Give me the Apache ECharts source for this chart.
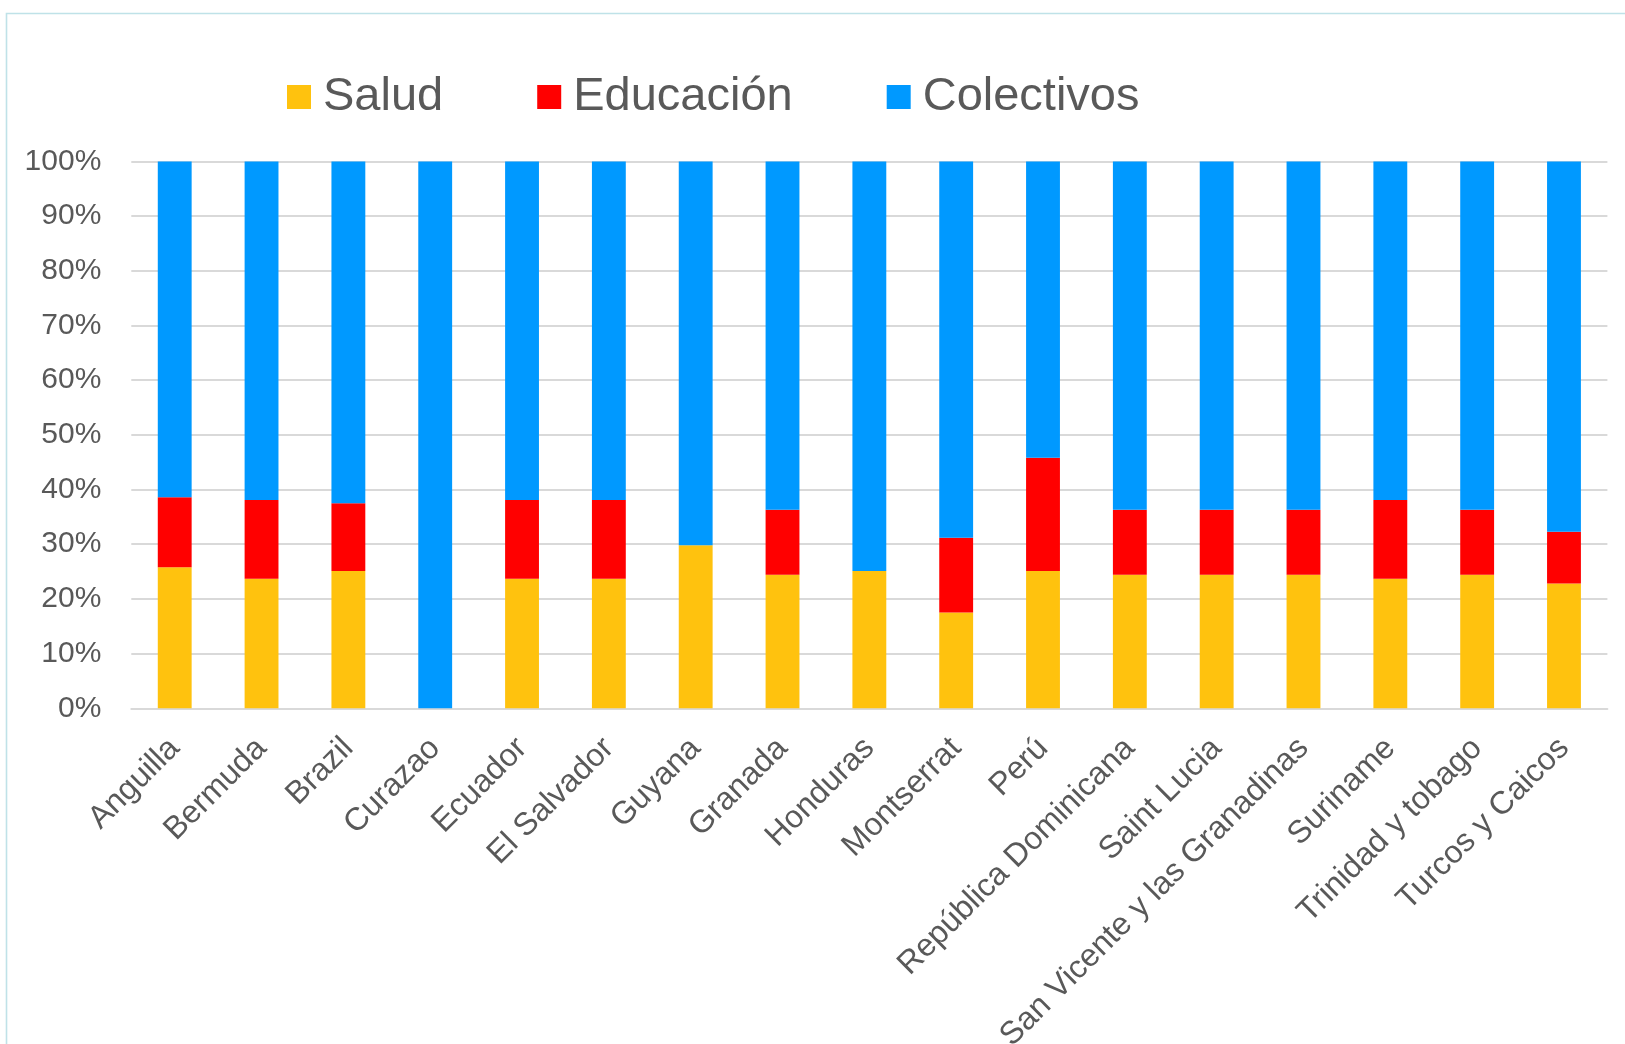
<!DOCTYPE html>
<html>
<head>
<meta charset="utf-8">
<script src="https://cdn.jsdelivr.net/npm/echarts@6/dist/echarts.min.js"></script>
<style>
html,body{margin:0;padding:0;background:#fff;overflow:hidden;}
#c{width:1625px;height:1044px;}
</style>
</head>
<body>
<div id="c"></div>
<script>
const categories = ['Anguilla','Bermuda','Brazil','Curazao','Ecuador','El Salvador','Guyana','Granada','Honduras','Montserrat','Perú','República Dominicana','Saint Lucia','San Vicente y las Granadinas','Suriname','Trinidad y tobago','Turcos y Caicos'];
const salud = [25.8, 23.7, 25.1, 0, 23.7, 23.7, 29.8, 24.4, 25.1, 17.5, 25.1, 24.4, 24.4, 24.4, 23.7, 24.4, 22.8];
const educacion = [12.8, 14.4, 12.4, 0, 14.4, 14.4, 0, 11.9, 0, 13.7, 20.7, 11.9, 11.9, 11.9, 14.4, 11.9, 9.5];
const colectivos = [61.4, 61.9, 62.5, 100, 61.9, 61.9, 70.2, 63.7, 74.9, 68.8, 54.2, 63.7, 63.7, 63.7, 61.9, 63.7, 67.7];
const seriesNames = ['Salud', 'Educación', 'Colectivos'];
const yTicks = [0, 10, 20, 30, 40, 50, 60, 70, 80, 90, 100];

const FONT = "'Liberation Sans', Arial, sans-serif";
const chart = echarts.init(document.getElementById('c'), null, {renderer: 'canvas'});
const colors = ['#FFC20E', '#FF0000', '#0099FF'];
const dataSets = [salud, educacion, colectivos];

chart.setOption({
  animation: false,
  backgroundColor: '#ffffff',
  color: colors,
  graphic: [{
    type: 'rect',
    left: 4, top: 11,
    shape: {width: 1700, height: 1100},
    style: {fill: 'none', stroke: '#bfe2e8', lineWidth: 1.6},
    silent: true
  }],
  legend: {
    left: 287, top: 73.5,
    padding: 0,
    itemWidth: 24, itemHeight: 24, itemGap: 94,
    icon: 'rect',
    data: seriesNames,
    textStyle: {fontFamily: FONT, fontSize: 47, color: '#595959', padding: [0, 0, 0, 7]}
  },
  grid: {left: 131.3, right: 17.6, top: 161.4, bottom: 335.7, containLabel: false, outerBoundsMode: 'none'},
  xAxis: {
    type: 'category',
    data: categories,
    axisTick: {show: false},
    axisLine: {lineStyle: {color: '#d9d9d9', width: 2}},
    axisLabel: {rotate: 45, interval: 0, fontFamily: FONT, fontSize: 32, color: '#595959', margin: 35}
  },
  yAxis: {
    type: 'value',
    min: yTicks[0], max: yTicks[yTicks.length - 1], interval: 10,
    axisLine: {show: false},
    axisTick: {show: false},
    splitLine: {lineStyle: {color: '#d9d9d9', width: 2}},
    axisLabel: {fontFamily: FONT, fontSize: 30, color: '#595959', margin: 30, formatter: '{value}%'}
  },
  series: seriesNames.map((n, i) => ({
    name: n,
    type: 'bar',
    stack: 'total',
    barWidth: '39%',
    data: dataSets[i],
    itemStyle: {color: colors[i]}
  }))
});
</script>
</body>
</html>
